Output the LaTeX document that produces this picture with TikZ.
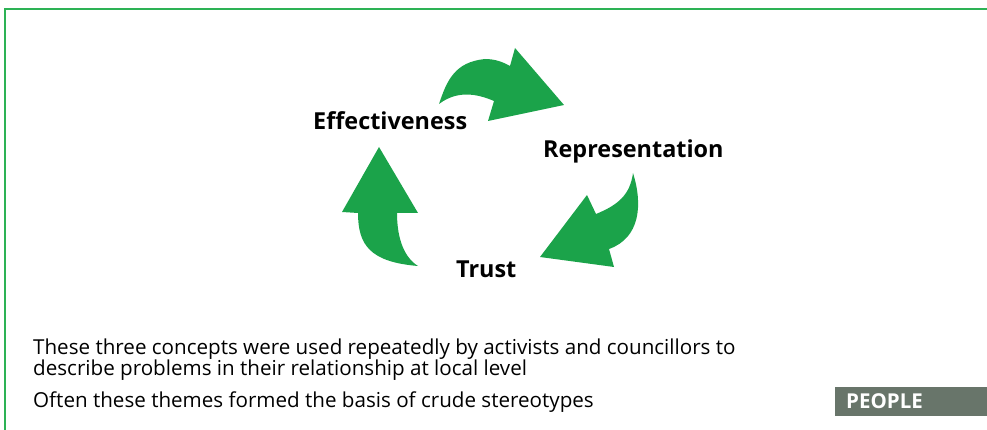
\documentclass[tikz,border=0pt]{standalone}
\usepackage{fontspec}
\setmainfont{Open Sans}
\definecolor{arrowgreen}{RGB}{27,163,74}
\definecolor{framegreen}{RGB}{45,178,85}
\definecolor{tagbg}{RGB}{104,117,106}
\begin{document}
\begin{tikzpicture}[x=1pt,y=-1pt,
  arr/.style={fill=arrowgreen,draw=none},
  lbl/.style={font=\fontsize{23.4}{25}\selectfont\bfseries,text=black,inner sep=0pt,anchor=base west},
  body/.style={font=\fontsize{20.6}{17}\selectfont,text=black,inner sep=0pt,anchor=base west}]
\useasboundingbox (0,0) rectangle (987,430);
% frame
\draw[framegreen,line width=2pt] (5,431) -- (5,9) -- (988,9);
% top arrow
\fill[arr] (439,104) .. controls (447,80) and (455,62) .. (485,59)
  .. controls (495,59) and (503,62) .. (510,66)
  -- (515,48) -- (564,105) -- (488,121) -- (494,101)
  .. controls (482,96) and (460,88) .. (439,104) -- cycle;
% left arrow
\fill[arr] (418,266) .. controls (405,258) and (397,240) .. (397,213)
  -- (418,213) -- (379,147) -- (342,212) -- (358,213)
  .. controls (358,245) and (370,262) .. (418,266) -- cycle;
% right arrow
\fill[arr] (633,173) .. controls (643,205) and (640,238) .. (609,249)
  -- (614,267) -- (540,257) -- (587,195) -- (596,214)
  .. controls (618,205) and (630,195) .. (633,173) -- cycle;
% labels
\node[lbl] (eff) at (313,130) {Effectiveness};
\node[lbl] (rep) at (543,158) {Representation};
\node[lbl] (tru) at (456,277) {Trust};
% body text
\node[body] (t1) at (33,354) {These three concepts were used repeatedly by activists and councillors to};
\node[body] (t1b) at (33,375) {describe problems in their relationship at local level};
\node[body] (t2) at (33,407) {Often these themes formed the basis of crude stereotypes};
% tag
\fill[tagbg] (835,387) rectangle (987,416);
\node[font=\fontsize{20.5}{22}\selectfont\bfseries,text=white,inner sep=0pt,anchor=base west] (tag) at (846,408) {PEOPLE};
\end{tikzpicture}
\end{document}
